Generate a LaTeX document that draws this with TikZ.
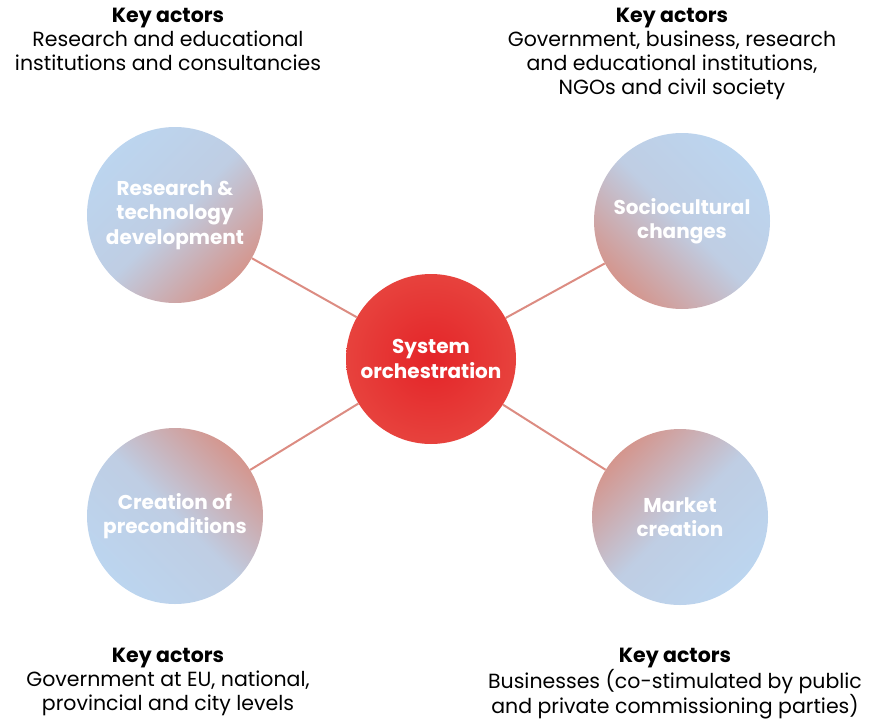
\documentclass[tikz,border=0pt]{standalone}
\usepackage{fontspec}
\setmainfont{Poppins}
\definecolor{SOplava}{HTML}{BCD5EF}
\definecolor{SOroza}{HTML}{D4968E}
\definecolor{SOlinija}{HTML}{DC8C82}
\definecolor{SOjezgra}{HTML}{E42428}
\definecolor{SOrub}{HTML}{E7423D}

\begin{document}
\begin{tikzpicture}[x=1pt,y=-1pt,font=\fontsize{20.5}{24}\selectfont,
 SOkrug/.style={circle,minimum size=176pt,inner sep=0pt,align=center,text=white,
  font=\fontsize{20}{24.5}\selectfont\bfseries,
  top color=SOplava,bottom color=SOroza,middle color=SOplava!88!SOroza,shading angle=#1},
 SOakteri/.style={align=center,anchor=north,inner sep=0pt}]
\useasboundingbox (0,0) rectangle (878,720);
% central circle
\node[circle,minimum size=170pt,inner sep=0pt,align=center,text=white,
 font=\fontsize{20}{24.5}\selectfont\bfseries,
 inner color=SOjezgra,outer color=SOrub] (jezgra) at (431,359) {System\\orchestration};
% outer circles
\node[SOkrug=45] (istrazivanje) at (175,215) {Research \&\\technology\\development};
\node[SOkrug=-45] (drustvo) at (682,221) {Sociocultural\\changes};
\node[SOkrug=135] (preduvjeti) at (175,516) {Creation of\\preconditions};
\node[SOkrug=-135] (trziste) at (680,517) {Market\\creation};
\foreach \n in {istrazivanje,drustvo,preduvjeti,trziste}{\draw[SOlinija,line width=2pt] (jezgra)--(\n);}
% key actors
\node[SOakteri] (akteriA) at (168,8) {\textbf{Key actors}\\Research and educational\\institutions and consultancies};
\node[SOakteri] (akteriB) at (672,8) {\textbf{Key actors}\\Government, business, research\\and educational institutions,\\NGOs and civil society};
\node[SOakteri] (akteriC) at (168,648) {\textbf{Key actors}\\Government at EU, national,\\provincial and city levels};
\node[SOakteri] (akteriD) at (675,648) {\textbf{Key actors}\\Businesses (co-stimulated by public\\and private commissioning parties)};
\end{tikzpicture}
\end{document}
